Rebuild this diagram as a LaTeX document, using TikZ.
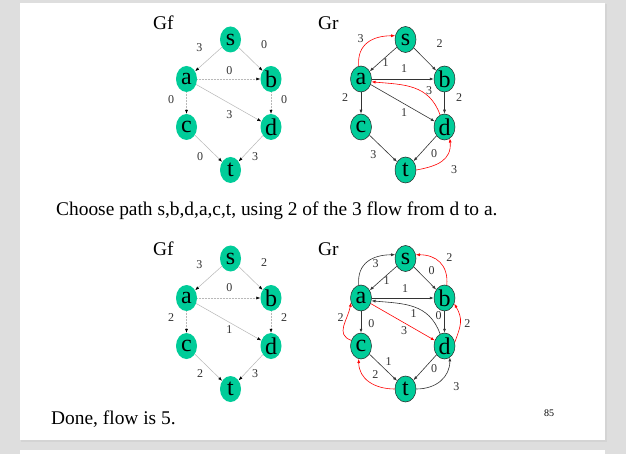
\documentclass[tikz,border=0pt]{standalone}
\usepackage{fontspec}
\setmainfont{Liberation Serif}
\usetikzlibrary{arrows.meta,shapes.geometric}
\definecolor{vert}{RGB}{0,204,153}
\definecolor{slidegray}{RGB}{222,222,222}

\tikzset{
  vx/.style={ellipse,fill=vert,minimum width=21pt,minimum height=26pt,inner sep=0pt,font=\fontsize{24}{24}\selectfont},
  rvx/.style={vx,draw=black!85,line width=0.5pt},
  fedge/.style={black!28,line width=0.5pt,-{Latex[length=4pt,width=3pt,color=black]}},
  fdot/.style={fedge,densely dotted},
  redge/.style={black!80,line width=0.6pt,-{Latex[length=4pt,width=3pt]}},
  aug/.style={red,line width=0.6pt,-{Latex[length=4pt,width=3pt]}},
  wt/.style={font=\fontsize{12}{12}\selectfont,text=black!80,inner sep=0pt},
  ttl/.style={anchor=base west,font=\fontsize{19.4}{19.4}\selectfont,inner sep=0pt},
}

\begin{document}
\begin{tikzpicture}[x=1pt,y=1pt]
\useasboundingbox (0,0) rectangle (626,-454);
% slides
\fill[slidegray] (0,0) rectangle (626,-454);
\fill[black!17] (21,-4.5) rectangle (606.5,-441.5);
\fill[white] (20,-3.3) rectangle (605,-440);
\fill[white] (20,-449.5) rectangle (605,-454);

% ---- upper pair
\node[ttl] (gf1) at (153,-30) {Gf};
\node[ttl] (gr1) at (318,-30) {Gr};

\node[vx] (f1s) at (230.5,-39.5) {s};
\node[vx] (f1a) at (186.5,-79) {a};
\node[vx] (f1b) at (271,-79) {b};
\node[vx] (f1c) at (186.5,-127) {c};
\node[vx] (f1d) at (271,-127) {d};
\node[vx] (f1t) at (230.5,-170) {t};
\draw[fedge] (f1s) -- (f1a);
\draw[fedge] (f1s) -- (f1b);
\draw[fdot] (f1a) -- (f1b);
\draw[fdot] (f1a) -- (f1c);
\draw[fdot] (f1b) -- (f1d);
\draw[fedge] (f1a) -- (f1d);
\draw[fedge] (f1c) -- (f1t);
\draw[fedge] (f1d) -- (f1t);
\node[wt] (w1sa) at (199.3,-48) {3};
\node[wt] (w1sb) at (264,-45) {0};
\node[wt] (w1ab) at (229.3,-71) {0};
\node[wt] (w1ac) at (171,-99.3) {0};
\node[wt] (w1bd) at (284,-99.3) {0};
\node[wt] (w1ad) at (229.3,-115) {3};
\node[wt] (w1ct) at (200,-156.7) {0};
\node[wt] (w1dt) at (255,-156.7) {3};

\node[rvx] (r1s) at (405.5,-39.5) {s};
\node[rvx] (r1a) at (361,-79) {a};
\node[rvx] (r1b) at (444.5,-79) {b};
\node[rvx] (r1c) at (361,-127) {c};
\node[rvx] (r1d) at (444.5,-127) {d};
\node[rvx] (r1t) at (405.5,-170) {t};
\draw[redge] (r1s) -- (r1a);
\draw[redge] (r1s) -- (r1b);
\draw[redge] (r1a) -- (r1b);
\draw[redge] (r1a) -- (r1c);
\draw[redge] (r1b) -- (r1d);
\draw[redge] (r1a) -- (r1d);
\draw[redge] (r1c) -- (r1t);
\draw[redge] (r1d) -- (r1t);
\draw[aug] (r1a.100) to[out=95,in=180,looseness=1.2] (r1s.160);
\draw[aug] (r1d.110) to[out=110,in=-5,looseness=1.1] (r1a.-15);
\draw[aug] (r1t.east) to[out=10,in=-85,looseness=1.2] (r1d.-65);
\node[wt] (v1as) at (360.7,-38.3) {3};
\node[wt] (v1sa) at (385.5,-62.3) {1};
\node[wt] (v1sb) at (439.5,-43.5) {2};
\node[wt] (v1ab) at (404,-68.3) {1};
\node[wt] (v1da) at (429,-90.3) {3};
\node[wt] (v1ac) at (345,-97.7) {2};
\node[wt] (v1bd) at (459,-97.7) {2};
\node[wt] (v1ad) at (404,-112.3) {1};
\node[wt] (v1ct) at (373.3,-155) {3};
\node[wt] (v1dt) at (434,-154) {0};
\node[wt] (v1td) at (454,-169.3) {3};

\node[ttl] (txt1) at (56,-216) {Choose path s,b,d,a,c,t, using 2 of the 3 flow from d to a.};

% ---- lower pair
\node[ttl] (gf2) at (153,-255) {Gf};
\node[ttl] (gr2) at (318,-255) {Gr};

\node[vx] (f2s) at (230.5,-258.5) {s};
\node[vx] (f2a) at (186.5,-298) {a};
\node[vx] (f2b) at (271,-298) {b};
\node[vx] (f2c) at (186.5,-346) {c};
\node[vx] (f2d) at (271,-346) {d};
\node[vx] (f2t) at (230.5,-389) {t};
\draw[fedge] (f2s) -- (f2a);
\draw[fedge] (f2s) -- (f2b);
\draw[fdot] (f2a) -- (f2b);
\draw[fdot] (f2a) -- (f2c);
\draw[fdot] (f2b) -- (f2d);
\draw[fedge] (f2a) -- (f2d);
\draw[fedge] (f2c) -- (f2t);
\draw[fedge] (f2d) -- (f2t);
\node[wt] (w2sa) at (199.3,-265) {3};
\node[wt] (w2sb) at (264,-262.3) {2};
\node[wt] (w2ab) at (229.3,-287.7) {0};
\node[wt] (w2ac) at (171,-317.3) {2};
\node[wt] (w2bd) at (284,-317.3) {2};
\node[wt] (w2ad) at (229.3,-330) {1};
\node[wt] (w2ct) at (200,-374) {2};
\node[wt] (w2dt) at (255,-374) {3};

\node[rvx] (r2s) at (405.5,-258.5) {s};
\node[rvx] (r2a) at (361,-298) {a};
\node[rvx] (r2b) at (444.5,-298) {b};
\node[rvx] (r2c) at (361,-346) {c};
\node[rvx] (r2d) at (444.5,-346) {d};
\node[rvx] (r2t) at (405.5,-389) {t};
\draw[redge] (r2s) -- (r2a);
\draw[redge] (r2s) -- (r2b);
\draw[redge] (r2a) -- (r2b);
\draw[redge] (r2a) -- (r2c);
\draw[redge] (r2b) -- (r2d);
\draw[aug] (r2a) -- (r2d);
\draw[redge] (r2c) -- (r2t);
\draw[redge] (r2d) -- (r2t);
\draw[redge] (r2a.100) to[out=95,in=180,looseness=1.2] (r2s.160);
\draw[aug] (r2b.80) to[out=85,in=0,looseness=1.2] (r2s.20);
\draw[redge] (r2d.110) to[out=110,in=-5,looseness=1.1] (r2a.-15);
\draw[aug] (r2c.150) to[out=160,in=-100,looseness=1.2] (r2a.205);
\draw[aug] (r2d.20) to[out=70,in=-60,looseness=1.2] (r2b.-30);
\draw[aug] (r2t.west) to[out=180,in=-90,looseness=1.1] (r2c.-100);
\draw[redge] (r2t.east) to[out=0,in=-90,looseness=1.1] (r2d.-65);
\node[wt] (v2as) at (375.5,-263.5) {3};
\node[wt] (v2sa) at (386.7,-280.5) {1};
\node[wt] (v2sb) at (431.7,-271) {0};
\node[wt] (v2bs) at (449.3,-257.3) {2};
\node[wt] (v2ab) at (405,-288.3) {1};
\node[wt] (v2ca) at (340.5,-317.3) {2};
\node[wt] (v2ac) at (371.3,-323.5) {0};
\node[wt] (v2da) at (413.7,-314) {1};
\node[wt] (v2bd) at (438.7,-316) {0};
\node[wt] (v2db) at (467.3,-323.3) {2};
\node[wt] (v2ad) at (404.2,-330.5) {3};
\node[wt] (v2ct) at (388.7,-361.8) {1};
\node[wt] (v2tc) at (375.3,-374.5) {2};
\node[wt] (v2dt) at (434,-368.5) {0};
\node[wt] (v2td) at (456.3,-386.3) {3};

\node[ttl] (txt2) at (51,-424) {Done, flow is 5.};
\node[font=\fontsize{10}{10}\selectfont,inner sep=0pt] (pg) at (549,-413.3) {85};
\end{tikzpicture}
\end{document}
